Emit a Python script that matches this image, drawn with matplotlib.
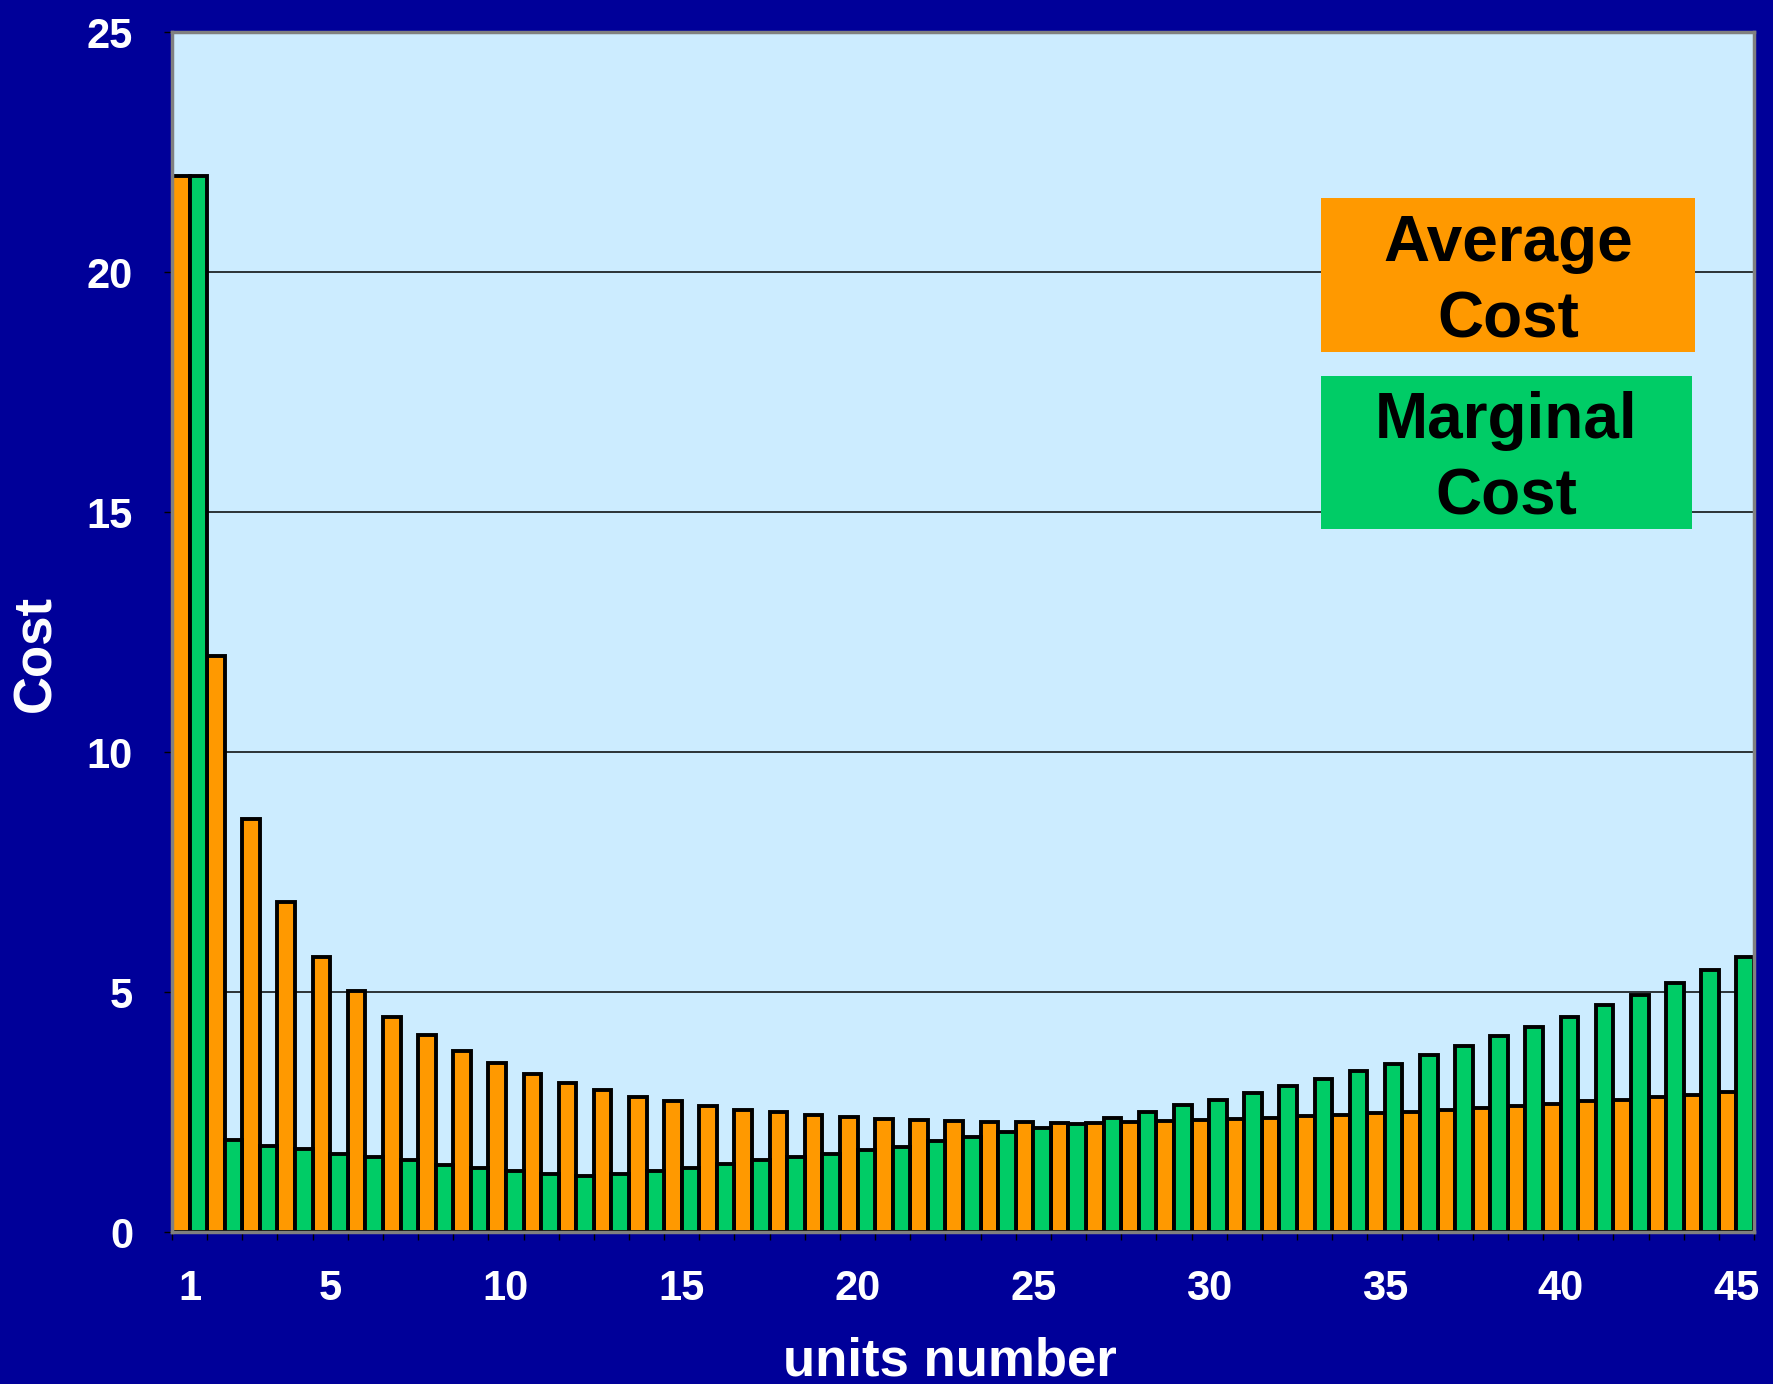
import matplotlib
matplotlib.use('Agg')
import matplotlib.pyplot as plt
from matplotlib.patches import Rectangle
import numpy as np

plt.rcParams['font.family'] = ['Liberation Sans', 'DejaVu Sans']

# cost per unit, units 1..45
units = np.arange(1, 46)
average_cost = [22.0, 12.0, 8.6, 6.88, 5.73, 5.02, 4.48, 4.1, 3.77, 3.52,
                3.3, 3.1, 2.95, 2.82, 2.72, 2.63, 2.55, 2.49, 2.43, 2.39,
                2.36, 2.33, 2.31, 2.3, 2.29, 2.28, 2.28, 2.3, 2.31, 2.33,
                2.36, 2.38, 2.41, 2.44, 2.47, 2.51, 2.55, 2.59, 2.63, 2.67,
                2.72, 2.76, 2.81, 2.86, 2.91]
marginal_cost = [22.0, 1.91, 1.79, 1.72, 1.63, 1.56, 1.49, 1.4, 1.34, 1.27,
                 1.2, 1.16, 1.2, 1.27, 1.34, 1.42, 1.49, 1.56, 1.63, 1.7,
                 1.77, 1.89, 1.98, 2.08, 2.17, 2.26, 2.38, 2.5, 2.64, 2.76,
                 2.9, 3.04, 3.18, 3.35, 3.51, 3.68, 3.87, 4.08, 4.27, 4.48,
                 4.72, 4.93, 5.19, 5.45, 5.73]
tick_units = [1, 5, 10, 15, 20, 25, 30, 35, 40, 45]
y_ticks = [0, 5, 10, 15, 20, 25]

bg = '#000099'
plot_bg = '#CCECFF'
orange = '#FF9900'
green = '#00CC66'

W, H = 1773, 1384
fig = plt.figure(figsize=(W / 100, H / 100), dpi=100, facecolor=bg)
ax = fig.add_axes([172 / W, 1 - 1232 / H, (1754 - 172) / W, (1232 - 32) / H])
ax.set_facecolor(plot_bg)

ax.bar(units - 0.25, average_cost, width=0.5, color=orange,
       edgecolor='black', linewidth=2.8, zorder=3)
ax.bar(units + 0.25, marginal_cost, width=0.5, color=green,
       edgecolor='black', linewidth=2.8, zorder=3)

ax.set_xlim(0.5, 45.5)
ax.set_ylim(0, 25)

# gridlines behind bars
for v in y_ticks[1:-1]:
    ax.axhline(v, color='black', linewidth=1.1, zorder=1)

for s in ax.spines.values():
    s.set_color('#808080')
    s.set_linewidth(2.5)
    s.set_zorder(4)

ax.set_yticks(y_ticks)
ax.set_yticklabels([str(v) for v in y_ticks])
ax.tick_params(axis='y', direction='out', length=6, width=1, color='black',
               labelcolor='white', labelsize=30, pad=22)
for lab in ax.get_yticklabels():
    lab.set_fontweight('bold')

ax.set_xticks(tick_units)
ax.set_xticklabels([str(v) for v in tick_units])
ax.set_xticks(np.arange(0.5, 46, 1.0), minor=True)
ax.tick_params(axis='x', which='major', length=0, labelcolor='white',
               labelsize=30, pad=27)
ax.tick_params(axis='x', which='minor', direction='out', length=6, width=1,
               color='black')
for lab in ax.get_xticklabels():
    lab.set_fontweight('bold')

fig.text(36 / W, 1 - 654 / H, 'Cost', rotation=90, color='white',
         fontsize=38, fontweight='bold', ha='center', va='center')
fig.text(950 / W, 8 / H, 'units number', color='white', fontsize=38,
         fontweight='bold', ha='center', va='baseline')

# legend boxes
boxes = [((1321, 198, 1695, 352), orange, 'Average\nCost'),
         ((1321, 376, 1692, 529), green, 'Marginal\nCost')]
for (x0, y0, x1, y1), col, label in boxes:
    fig.patches.append(Rectangle((x0 / W, 1 - y1 / H), (x1 - x0) / W,
                                 (y1 - y0) / H, transform=fig.transFigure,
                                 facecolor=col, edgecolor='none', zorder=5))
    fig.text((x0 + x1) / 2 / W, 1 - (y0 + y1) / 2 / H - 0.005, label,
             color='black', fontsize=46, fontweight='bold', ha='center',
             va='center', linespacing=1.35, zorder=6)

fig.savefig('out.png', dpi=100, facecolor=bg)
